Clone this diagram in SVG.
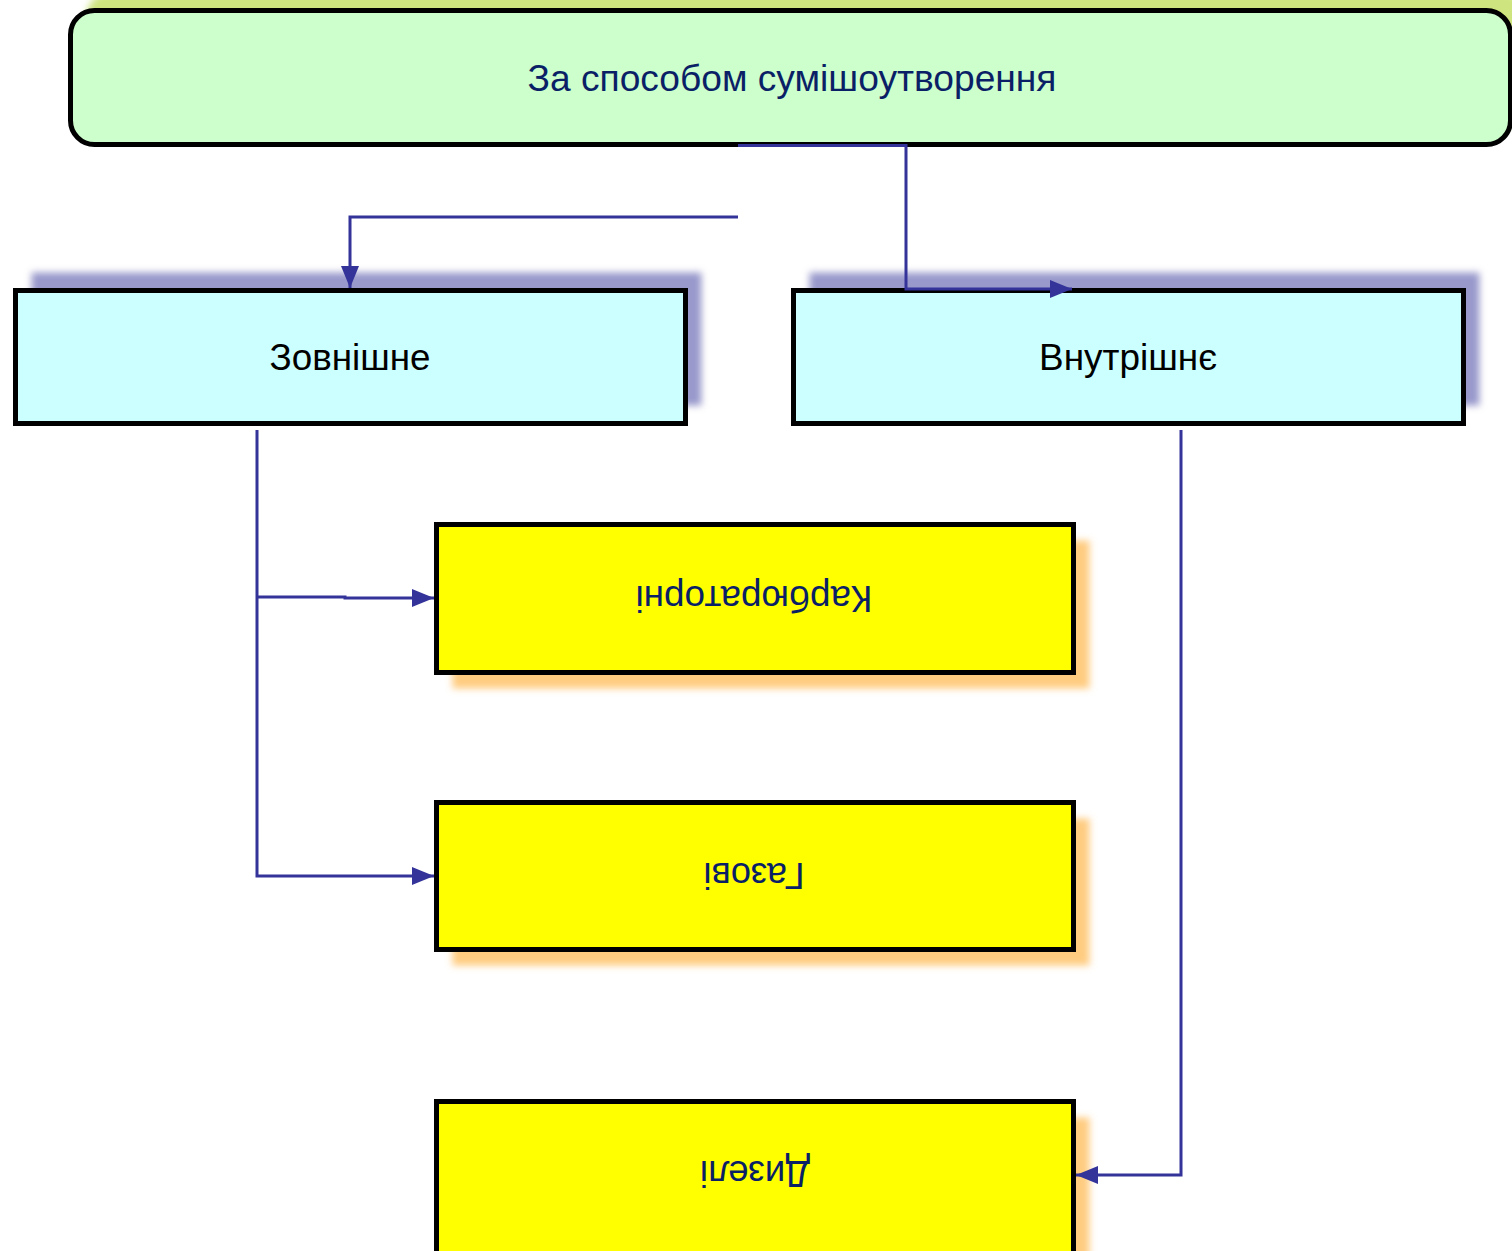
<svg xmlns="http://www.w3.org/2000/svg" width="1512" height="1251" viewBox="0 0 1512 1251">
<defs>
<style>
.box{stroke:#000;stroke-width:5}
.conn{fill:none;stroke:#333399;stroke-width:3}
.t{font-family:"Liberation Sans",Arial,sans-serif;font-size:36px;text-anchor:middle;dominant-baseline:central}
</style>
<filter id="blur" x="-10%" y="-20%" width="120%" height="140%"><feGaussianBlur stdDeviation="3.5"/></filter>
<marker id="arr" markerUnits="userSpaceOnUse" markerWidth="24" markerHeight="20" refX="22" refY="9" orient="auto"><path d="M0,0 L22,9 L0,18 z" fill="#333399"/></marker>
</defs>
<rect width="1512" height="1251" fill="#fff"/>
<g id="top">
<rect x="86.5" y="-7.5" width="1440" height="134" rx="24" fill="#CEE47E" filter="url(#blur)"/>
<rect class="box" x="70.5" y="10.5" width="1440" height="134" rx="24" fill="#CCFFCC"/>
<text class="t" x="792" y="78" fill="#0A1F66" textLength="529" lengthAdjust="spacingAndGlyphs">За способом сумішоутворення</text>
</g>
<g id="zovnishne">
<rect x="31.5" y="272.5" width="670" height="133" fill="#9999CC" filter="url(#blur)"/>
<rect class="box" x="15.5" y="290.5" width="670" height="133" fill="#CCFFFF"/>
<text class="t" x="350" y="357" fill="#000" textLength="161" lengthAdjust="spacingAndGlyphs">Зовнішне</text>
</g>
<g id="vnutrishne">
<rect x="809.5" y="272.5" width="670" height="133" fill="#9999CC" filter="url(#blur)"/>
<rect class="box" x="793.5" y="290.5" width="670" height="133" fill="#CCFFFF"/>
<text class="t" x="1128" y="357" fill="#000" textLength="178" lengthAdjust="spacingAndGlyphs">Внутрішнє</text>
</g>
<g id="karbyuratorni">
<rect x="452.5" y="540.5" width="637" height="148" fill="#FFCC80" filter="url(#blur)"/>
<rect class="box" x="436.5" y="524.5" width="637" height="148" fill="#FFFF00"/>
<text class="t" x="754" y="598" fill="#0A1F66" transform="rotate(180 754 598)" textLength="237" lengthAdjust="spacingAndGlyphs">Карбюраторні</text>
</g>
<g id="gazovi">
<rect x="452.5" y="818.5" width="637" height="147" fill="#FFCC80" filter="url(#blur)"/>
<rect class="box" x="436.5" y="802.5" width="637" height="147" fill="#FFFF00"/>
<text class="t" x="754" y="875" fill="#0A1F66" transform="rotate(180 754 875)" textLength="101" lengthAdjust="spacingAndGlyphs">Газові</text>
</g>
<g id="dyzeli">
<rect x="452.5" y="1117.5" width="637" height="160" fill="#FFCC80" filter="url(#blur)"/>
<rect class="box" x="436.5" y="1101.5" width="637" height="160" fill="#FFFF00"/>
<text class="t" x="755" y="1173" fill="#0A1F66" transform="rotate(180 755 1173)" textLength="110" lengthAdjust="spacingAndGlyphs">Дизелі</text>
</g>
<g id="connectors">
<path class="conn" d="M738 145.5 H906 V289 H1072" marker-end="url(#arr)"/>
<path class="conn" d="M738 217 H350 V288" marker-end="url(#arr)"/>
<path class="conn" d="M257 430 V876 H434" marker-end="url(#arr)"/>
<path class="conn" d="M257 597 H345 V598 H434" marker-end="url(#arr)"/>
<path class="conn" d="M1181 430 V1175 H1076" marker-end="url(#arr)"/>
</g>
</svg>
